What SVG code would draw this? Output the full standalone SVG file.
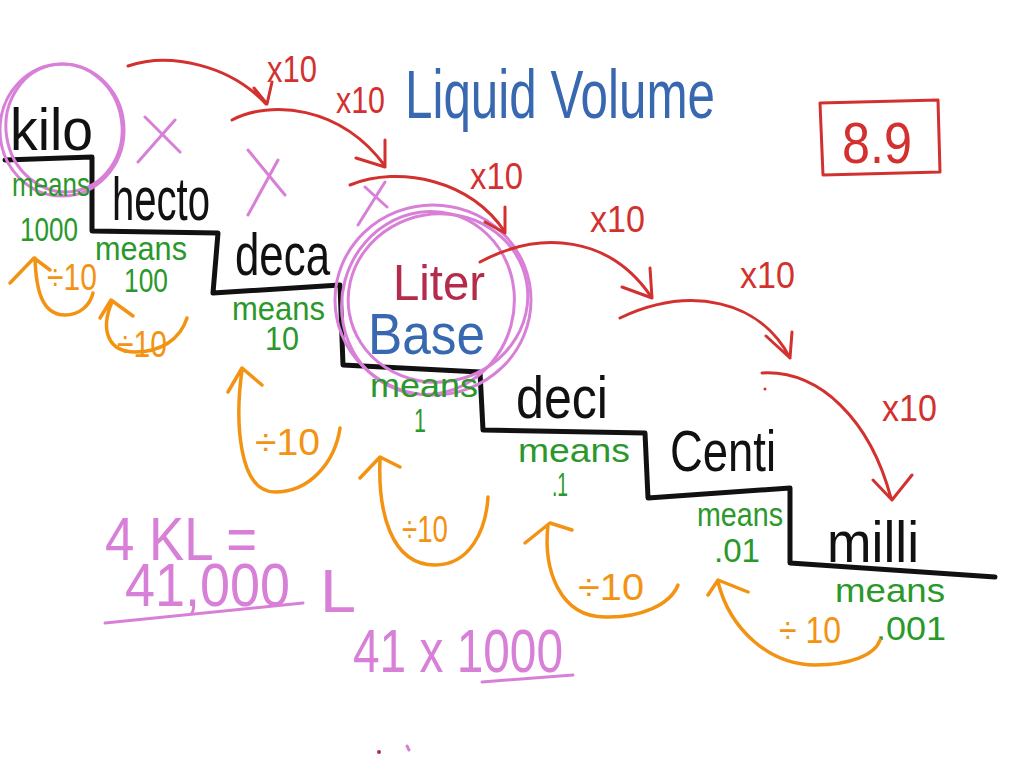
<svg xmlns="http://www.w3.org/2000/svg" width="1024" height="768" viewBox="0 0 1024 768">
<style>
.t{font-family:"Liberation Sans","DejaVu Sans",sans-serif}
.blk{fill:#111}
.grn{fill:#2a982a;font-size:33px}
.org{fill:#f39313;font-size:36px}
.red{fill:#d3312f;font-size:36px}
.pnk{fill:#d880d8;font-size:62px}
.ln{fill:none;stroke-linecap:round;stroke-linejoin:round}
.sk{stroke:#111;stroke-width:5}
.sr{stroke:#d3312f;stroke-width:3}
.so{stroke:#f39313;stroke-width:3.5}
.sp{stroke:#d880d8;stroke-width:3}
</style>
<rect width="1024" height="768" fill="#fff"/>
<g id="stairs"><path class="ln sk" d="M5,160 L92,157 L92,231 L218,233 L213,293 L340,285 L343,365 L480,372 L483,430 L645,433 L648,498 L790,488 L790,563 L995,577"/></g>
<g id="title"><text class="t" x="405" y="118" font-size="68" fill="#3768b0" textLength="310" lengthAdjust="spacingAndGlyphs">Liquid Volume</text></g>
<g id="lesson"><path class="ln sr" d="M820,103 L938,100 L940,172 L823,175 Z"/><text class="t" x="842" y="163" font-size="58" fill="#d3312f" textLength="70" lengthAdjust="spacingAndGlyphs">8.9</text></g>
<g id="kilo">
<ellipse class="ln sp" cx="62" cy="130" rx="62" ry="66"/><ellipse class="ln sp" cx="64" cy="128" rx="58" ry="64" transform="rotate(-8 64 128)"/>
<text class="t blk" x="10" y="150" font-size="60" textLength="83" lengthAdjust="spacingAndGlyphs">kilo</text>
<text class="t grn" x="12" y="196" textLength="78" lengthAdjust="spacingAndGlyphs">means</text>
<text class="t grn" x="20" y="241" font-size="38" textLength="58" lengthAdjust="spacingAndGlyphs">1000</text></g>
<g id="hecto">
<text class="t blk" x="112" y="220" font-size="62" textLength="98" lengthAdjust="spacingAndGlyphs">hecto</text>
<text class="t grn" x="95" y="260" textLength="92" lengthAdjust="spacingAndGlyphs">means</text>
<text class="t grn" x="124" y="292" textLength="44" lengthAdjust="spacingAndGlyphs">100</text></g>
<g id="deca">
<text class="t blk" x="235" y="275" font-size="60" textLength="95" lengthAdjust="spacingAndGlyphs">deca</text>
<text class="t grn" x="232" y="320" textLength="93" lengthAdjust="spacingAndGlyphs">means</text>
<text class="t grn" x="265" y="350" textLength="34" lengthAdjust="spacingAndGlyphs">10</text></g>
<g id="liter">
<ellipse class="ln sp" cx="433" cy="300" rx="98" ry="95"/><ellipse class="ln sp" cx="428" cy="303" rx="86" ry="92" transform="rotate(15 428 303)"/><ellipse class="ln sp" cx="438" cy="298" rx="90" ry="84" transform="rotate(-10 438 298)"/>
<text class="t" x="393" y="300" font-size="50" fill="#b42c4c" textLength="92" lengthAdjust="spacingAndGlyphs">Liter</text>
<text class="t" x="368" y="354" font-size="58" fill="#3768b0" textLength="117" lengthAdjust="spacingAndGlyphs">Base</text>
<text class="t grn" x="370" y="397" textLength="108" lengthAdjust="spacingAndGlyphs">means</text>
<text class="t grn" x="414" y="432" textLength="12" lengthAdjust="spacingAndGlyphs">1</text></g>
<g id="deci">
<text class="t blk" x="516" y="418" font-size="60" textLength="92" lengthAdjust="spacingAndGlyphs">deci</text>
<text class="t grn" x="518" y="462" textLength="112" lengthAdjust="spacingAndGlyphs">means</text>
<text class="t grn" x="552" y="496" textLength="16" lengthAdjust="spacingAndGlyphs">.1</text></g>
<g id="centi">
<text class="t blk" x="670" y="471" font-size="58" textLength="106" lengthAdjust="spacingAndGlyphs">Centi</text>
<text class="t grn" x="697" y="526" textLength="86" lengthAdjust="spacingAndGlyphs">means</text>
<text class="t grn" x="714" y="562" textLength="46" lengthAdjust="spacingAndGlyphs">.01</text></g>
<g id="milli">
<text class="t blk" x="827" y="562" font-size="58" textLength="92" lengthAdjust="spacingAndGlyphs">milli</text>
<text class="t grn" x="835" y="602" textLength="110" lengthAdjust="spacingAndGlyphs">means</text>
<text class="t grn" x="876" y="640" textLength="70" lengthAdjust="spacingAndGlyphs">.001</text></g>
<g id="marks">
<path class="ln sp" d="M138,162 L175,120 M145,117 L180,152 M248,215 L278,160 M248,150 L285,195 M358,225 L385,182 M365,187 L387,207"/>
</g>
<g id="connectors">
<path class="ln sr" d="M128,66 C170,52 230,65 266,104 M254,88 L267,104 L272,82"/>
<path class="ln sr" d="M232,120 C270,100 340,105 385,166 M356,158 L385,167 L385,140"/>
<path class="ln sr" d="M350,185 C400,165 470,180 505,232 M485,222 L505,233 L505,207"/>
<path class="ln sr" d="M480,262 C540,230 610,235 652,298 M622,287 L652,298 L650,268"/>
<path class="ln sr" d="M620,318 C690,285 760,300 790,358 M766,336 L790,358 L792,332"/>
<path class="ln sr" d="M762,373 C820,370 870,420 891,498 M873,480 L892,500 L912,475"/>
<circle cx="765" cy="389" r="1.5" fill="#d3312f"/>
<path class="ln so" d="M35,258 C36,290 42,315 65,315 C80,315 90,305 93,293 M10,283 L34,258 L50,270"/>
<path class="ln so" d="M112,302 C100,330 108,352 135,352 C160,352 180,340 187,318 M100,318 L111,300 L133,316"/>
<path class="ln so" d="M242,370 C235,420 238,492 275,492 C310,492 335,462 340,428 M228,392 L242,368 L262,385"/>
<path class="ln so" d="M380,460 C378,510 390,565 435,565 C470,565 486,530 488,497 M360,478 L380,457 L400,467"/>
<path class="ln so" d="M548,525 C543,570 560,617 605,617 C640,618 670,605 678,585 M525,543 L550,523 L572,530"/>
<path class="ln so" d="M718,582 C730,630 770,665 815,665 C850,665 875,655 880,640 M708,595 L718,580 L748,592"/>
<text class="t red" x="267" y="82" font-size="32" textLength="50" lengthAdjust="spacingAndGlyphs">x10</text>
<text class="t red" x="336" y="113" textLength="49" lengthAdjust="spacingAndGlyphs">x10</text>
<text class="t red" x="470" y="189" textLength="53" lengthAdjust="spacingAndGlyphs">x10</text>
<text class="t red" x="590" y="232" textLength="55" lengthAdjust="spacingAndGlyphs">x10</text>
<text class="t red" x="740" y="288" textLength="55" lengthAdjust="spacingAndGlyphs">x10</text>
<text class="t red" x="882" y="421" font-size="34" textLength="55" lengthAdjust="spacingAndGlyphs">x10</text>
<text class="t org" x="47" y="290" textLength="50" lengthAdjust="spacingAndGlyphs">÷10</text>
<text class="t org" x="117" y="357" textLength="50" lengthAdjust="spacingAndGlyphs">÷10</text>
<text class="t org" x="255" y="455" font-size="40" textLength="65" lengthAdjust="spacingAndGlyphs">÷10</text>
<text class="t org" x="402" y="542" font-size="34" textLength="46" lengthAdjust="spacingAndGlyphs">÷10</text>
<text class="t org" x="578" y="600" textLength="66" lengthAdjust="spacingAndGlyphs">÷10</text>
<text class="t org" x="779" y="643" textLength="62" lengthAdjust="spacingAndGlyphs">÷ 10</text>
</g>
<g id="example">
<text class="t pnk" x="105" y="560" font-size="58" textLength="152" lengthAdjust="spacingAndGlyphs">4 KL =</text>
<text class="t pnk" x="125" y="606" font-size="48" textLength="165" lengthAdjust="spacingAndGlyphs">41,000</text>
<path class="ln sp" d="M105,623 L303,603"/>
<text class="t pnk" x="320" y="612" font-size="62" textLength="36" lengthAdjust="spacingAndGlyphs">L</text>
<text class="t pnk" x="353" y="672" font-size="62" textLength="210" lengthAdjust="spacingAndGlyphs">41 x 1000</text>
<path class="ln sp" d="M482,682 L573,675"/>
<circle cx="379" cy="752" r="2" fill="#b42c4c"/><path class="ln sp" d="M407,746 L409,750"/>
</g>
</svg>
